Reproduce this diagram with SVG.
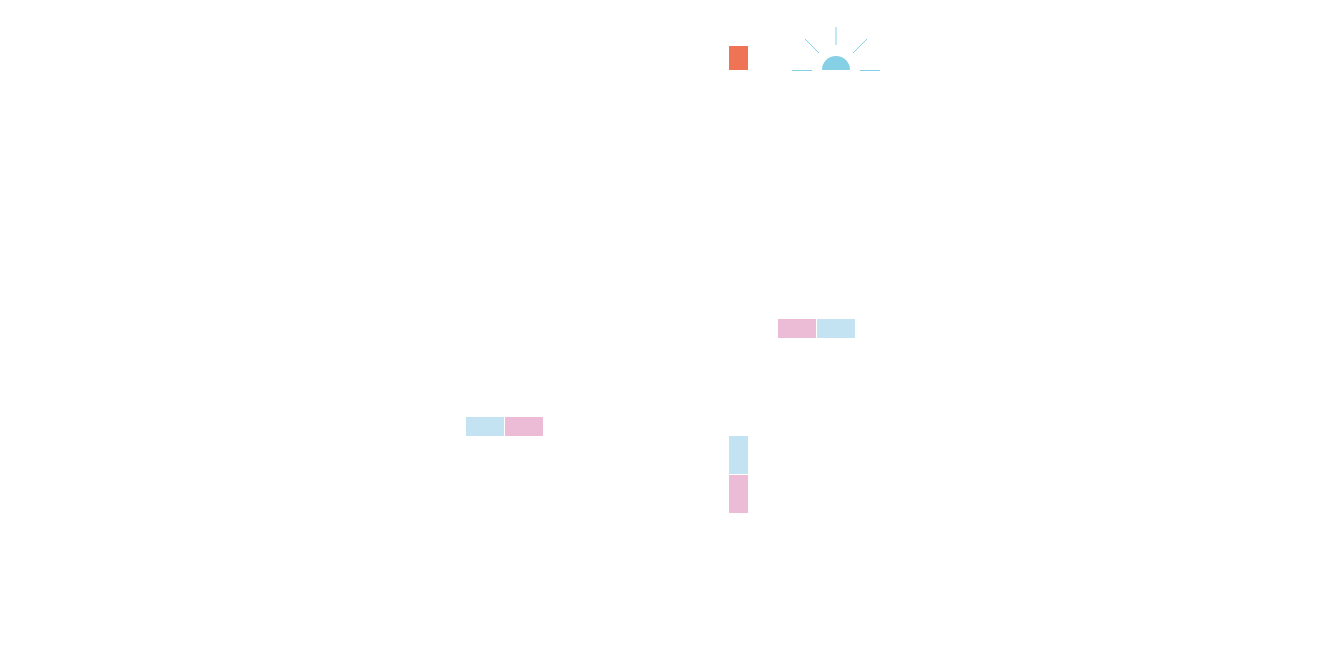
<svg xmlns="http://www.w3.org/2000/svg" width="1318" height="650" viewBox="0 0 1318 650">
<style>
.b{fill:#c4e3f2}.p{fill:#ecbcd6}.ray{stroke:#86d0e6;stroke-width:1;fill:none}
</style>
<rect width="1318" height="650" fill="#fff"/>
<g id="marker-orange"><rect x="729" y="46" width="19" height="24" fill="#ef7455"/></g>
<g id="sun">
<path d="M822 70 A14 14 0 0 1 850 70 Z" fill="#86d0e6"/>
<g class="ray">
<line x1="836" y1="27" x2="836" y2="45"/>
<line x1="805" y1="39" x2="819" y2="53"/>
<line x1="867" y1="39" x2="853" y2="53"/>
<line x1="792" y1="70.5" x2="812" y2="70.5"/>
<line x1="860" y1="70.5" x2="880" y2="70.5"/>
</g>
</g>
<g id="pair-top"><rect class="p" x="778" y="319" width="38" height="19"/><rect class="b" x="817" y="319" width="38" height="19"/></g>
<g id="pair-left"><rect class="b" x="466" y="417" width="38" height="19"/><rect class="p" x="505" y="417" width="38" height="19"/></g>
<g id="pair-vertical"><rect class="b" x="729" y="436" width="19" height="38"/><rect class="p" x="729" y="475" width="19" height="38"/></g>
<g id="connectors"/>
</svg>
